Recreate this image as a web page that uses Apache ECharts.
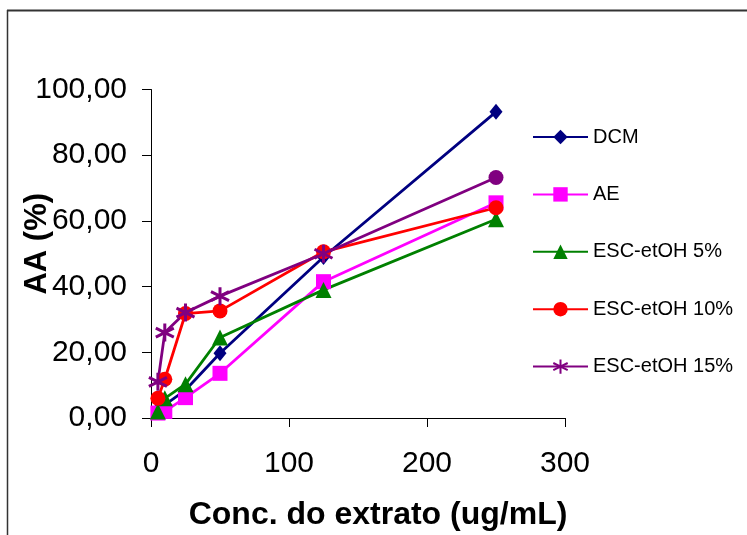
<!DOCTYPE html>
<html>
<head>
<meta charset="utf-8">
<script src="https://cdn.jsdelivr.net/npm/echarts@6/dist/echarts.min.js"></script>
<style>
html,body{margin:0;padding:0;background:#fff;}
#chart{width:747px;height:535px;}
</style>
</head>
<body>
<div id="chart"></div>
<script>
const xValues = [5, 10, 25, 50, 125, 250];
const seriesNames = ['DCM', 'AE', 'ESC-etOH 5%', 'ESC-etOH 10%', 'ESC-etOH 15%'];
const dcm = [2.5, 4, 8.5, 19.7, 49, 93.2];
const ae = [1.5, 2, 6.2, 13.6, 41.5, 65.5];
const esc5 = [2, 6, 10.3, 24.5, 39, 60.5];
const esc10 = [6, 11.8, 31.8, 32.6, 50.6, 64];
const esc15 = [11, 26, 32.1, 37.1, 50, 73.2];
const xTicks = [0, 100, 200, 300];
const yTicks = [0, 20, 40, 60, 80, 100];

const FONT = 'Arial, "Liberation Sans", sans-serif';
const starPath = 'path://M0,-10 L0,10 M-8.66,-5 L8.66,5 M-8.66,5 L8.66,-5';

const styles = [
  { color: '#000080', symbol: 'diamond', size: [13, 16] },
  { color: '#FF00FF', symbol: 'rect', size: 15 },
  { color: '#008000', symbol: 'triangle', size: 16 },
  { color: '#FF0000', symbol: 'circle', size: 15 },
  { color: '#800080', symbol: starPath, size: 18, star: true, lastAsCircle: true }
];
const values = [dcm, ae, esc5, esc10, esc15];

const series = values.map((v, i) => {
  const s = styles[i];
  const data = xValues.map((x, j) => {
    if (s.lastAsCircle && j === xValues.length - 1) {
      return { value: [x, v[j]], symbol: 'circle', symbolSize: 15, itemStyle: { borderWidth: 0 } };
    }
    return [x, v[j]];
  });
  return {
    name: seriesNames[i],
    type: 'line',
    data: data,
    symbol: s.symbol,
    symbolSize: s.size,
    showAllSymbol: true,
    lineStyle: { color: s.color, width: 2.8 },
    itemStyle: s.star
      ? { color: s.color, borderColor: s.color, borderWidth: 3 }
      : { color: s.color, borderWidth: 0 },
    emphasis: { disabled: true },
    animation: false
  };
});

const chart = echarts.init(document.getElementById('chart'), null, { renderer: 'canvas' });
chart.setOption({
  backgroundColor: '#ffffff',
  animation: false,
  grid: { left: 151, right: 182, top: 89.5, bottom: 117, containLabel: false, outerBoundsMode: 'none' },
  xAxis: {
    type: 'value',
    min: xTicks[0], max: xTicks[xTicks.length - 1], interval: 100,
    name: 'Conc. do extrato (ug/mL)',
    nameLocation: 'middle',
    nameGap: 81,
    nameMoveOverlap: false,
    nameTextStyle: { fontFamily: FONT, fontSize: 32, fontWeight: 'bold', color: '#000', padding: [0, 0, 0, 40] },
    axisLine: { show: true, lineStyle: { color: '#000', width: 1 } },
    axisTick: { show: true, inside: false, length: 9, lineStyle: { color: '#000' } },
    axisLabel: { fontFamily: FONT, fontSize: 30, color: '#000', margin: 31 },
    splitLine: { show: false }
  },
  yAxis: {
    type: 'value',
    min: yTicks[0], max: yTicks[yTicks.length - 1], interval: 20,
    name: 'AA (%)',
    nameLocation: 'middle',
    nameGap: 98,
    nameMoveOverlap: false,
    nameTextStyle: { fontFamily: FONT, fontSize: 31, fontWeight: 'bold', color: '#000', padding: [0, 0, 0, 20] },
    axisLine: { show: true, lineStyle: { color: '#000', width: 1 } },
    axisTick: { show: true, inside: false, length: 9, lineStyle: { color: '#000' } },
    axisLabel: {
      fontFamily: FONT, fontSize: 30, color: '#000', margin: 24,
      formatter: v => v.toFixed(2).replace('.', ',')
    },
    splitLine: { show: false }
  },
  legend: {
    orient: 'vertical',
    left: 532,
    top: 127,
    padding: 0,
    itemWidth: 55,
    itemHeight: 18,
    itemGap: 37.4,
    data: seriesNames,
    textStyle: { fontFamily: FONT, fontSize: 20, color: '#000', lineHeight: 20 },
    lineStyle: { width: 2 }
  },
  graphic: [
    { type: 'line', shape: { x1: 7, y1: 10.5, x2: 747, y2: 10.5 }, style: { stroke: '#333', lineWidth: 2 } },
    { type: 'line', shape: { x1: 7.5, y1: 10, x2: 7.5, y2: 535 }, style: { stroke: '#333', lineWidth: 1.5 } }
  ],
  series: series
});
</script>
</body>
</html>
